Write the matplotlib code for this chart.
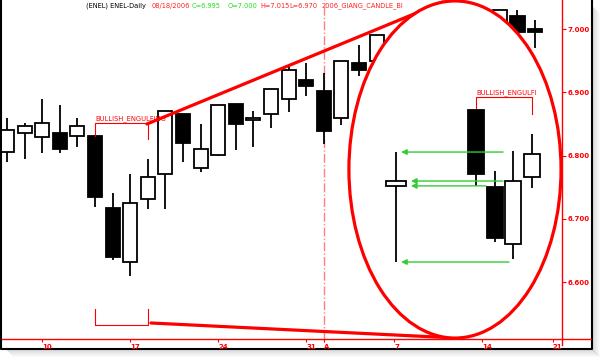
import matplotlib
matplotlib.use('Agg')
import matplotlib.pyplot as plt
from matplotlib.patches import Rectangle, Ellipse

plt.rcParams['font.family'] = ['DejaVu Sans']

# ------ data (ENEL daily, Jul 6 - Aug 18 2006) ------
# trading-day index: 0 = Jul 6 ... 21 = Aug 4, 22 = Aug 7, 27 = Aug 14, 28 = Aug 16, 30 = Aug 18
idx = [0, 1, 2, 3, 4, 5, 6, 7, 8, 9, 10, 11, 12, 13, 14, 15, 16, 17, 18, 19, 20, 21, 28, 29, 30]
opens = [6.806, 6.835, 6.830, 6.836, 6.831, 6.831, 6.7165, 6.631, 6.731, 6.770, 6.866, 6.780, 6.801,
         6.881, 6.856, 6.866, 6.890, 6.920, 6.902, 6.860, 6.946, 6.950, 6.975, 7.0205, 7.000]
highs = [6.860, 6.851, 6.890, 6.880, 6.860, 6.832, 6.740, 6.770, 6.794, 6.871, 6.866, 6.850, 6.880,
         6.881, 6.870, 6.905, 6.945, 6.946, 6.931, 6.950, 6.975, 6.9905, 7.030, 7.030, 7.015]
lows = [6.790, 6.794, 6.804, 6.804, 6.814, 6.719, 6.635, 6.609, 6.715, 6.715, 6.789, 6.774, 6.799,
        6.809, 6.814, 6.844, 6.869, 6.894, 6.819, 6.849, 6.925, 6.950, 6.960, 6.995, 6.970]
closes = [6.840, 6.846, 6.851, 6.810, 6.846, 6.735, 6.640, 6.725, 6.766, 6.871, 6.820, 6.810, 6.880,
          6.850, 6.860, 6.905, 6.935, 6.910, 6.839, 6.950, 6.935, 6.9905, 7.030, 6.996, 6.995]

tick_pos = [2, 7, 12, 17, 18, 22, 27, 31]
tick_labels = ['10', '17', '24', '31', 'A', '7', '14', '21']
price_ticks = [6.6, 6.7, 6.8, 6.9, 7.0]

# inset drawn inside the circle: the engulfing pattern and the resulting doji
inset_x = [26.65, 27.73, 28.75, 29.83]
inset_o = [6.872, 6.7507, 6.660, 6.7655]
inset_h = [6.872, 6.7755, 6.8076, 6.8335]
inset_l = [6.752, 6.6637, 6.6364, 6.748]
inset_c = [6.770, 6.669, 6.7597, 6.802]
doji_x = 22.1
doji_ohlc = [6.752, 6.8055, 6.6316, 6.7597]

# green arrows: price level, start index, tip index
arrow_lvl = [6.8055, 6.7597, 6.752, 6.6316]
arrow_from = [28.18, 28.18, 27.2, 28.52]
arrow_to = [22.39, 22.95, 22.95, 22.39]

title_parts = ['(ENEL) ENEL-Daily', '08/18/2006', 'C=6.995', 'O=7.000', 'H=7.015', 'L=6.970',
               '2006_GIANG_CANDLE_BI']
title_colors = ['black', '#ff2020', '#20e020', '#20e020', '#ff2020', '#ff2020', '#ff2020']
title_x = [86, 152, 192, 228, 260, 289, 322]

red = '#ff0000'
fs = 4.8

fig = plt.figure(figsize=(6.04, 3.59), dpi=100)

# ------ background: frame, shadow, title ------
bg = fig.add_axes([0, 0, 1, 1])
bg.set_xlim(0, 604)
bg.set_ylim(359, 0)
bg.axis('off')
for k in range(1, 9):
    a = 0.35 * (1 - k / 9)
    bg.add_patch(Rectangle((592 + k - 1, 5 + k), 1, 349 - 5, color='gray', alpha=a, lw=0))
    bg.add_patch(Rectangle((5 + k, 349 + k - 1), 592 - 5, 1, color='gray', alpha=a, lw=0))
bg.plot([1, 1, 592, 592], [0, 349, 349, 0], color='black', lw=1.5)
bg.plot([562, 591], [339, 339], color=red, lw=1)
bg.plot([562, 562], [339, 345], color=red, lw=1)
for txt, col, x in zip(title_parts, title_colors, title_x):
    bg.text(x, 6, txt, color=col, fontsize=fs, ha='left', va='center')

# ------ main price axes ------
ax = fig.add_axes([2 / 604, 20 / 359, 560 / 604, 339 / 359])
ax.set_facecolor('none')
ax.set_xlim(-0.284, 31.53)
ax.set_ylim(6.5099, 7.0459)


def candle(x, o, h, l, c, w, z):
    ax.vlines(x, l, h, color='black', lw=1.3, zorder=z)
    face = 'white' if c >= o else 'black'
    ax.add_patch(Rectangle((x - w / 2, min(o, c)), w, max(abs(c - o), 0.004),
                           facecolor=face, edgecolor='black', lw=1.3, zorder=z + 0.1))


for i in range(len(idx)):
    candle(idx[i], opens[i], highs[i], lows[i], closes[i], 0.8, 2)

# month separator
ax.axvline(18, color='#ff8080', lw=1, ls='-.', zorder=1)

# bullish engulfing bracket on the chart
ax.plot([5, 5, 8, 8], [6.831, 6.8514, 6.8514, 6.8261], color=red, lw=0.8, zorder=3)
ax.text(5, 6.853, 'BULLISH_ENGULFING', color=red, fontsize=4.9,
        ha='left', va='bottom', zorder=3)
ax.plot([5, 5, 8, 8], [6.5573, 6.532, 6.532, 6.5573], color=red, lw=0.8, zorder=3)

# thick lines leading to the circle
ax.plot([7.95, 24.77], [6.8498, 7.0427], color=red, lw=2.3, zorder=3.5, solid_capstyle='round')
ax.plot([8.18, 25.51], [6.5352, 6.5115], color=red, lw=2.3, zorder=3.5, solid_capstyle='round')

ax.add_patch(Ellipse((25.45, 6.7779), 12.05, 0.533, facecolor='white', edgecolor=red,
                     lw=2.3, zorder=4))

# inset inside the circle
for i in range(len(inset_x)):
    candle(inset_x[i], inset_o[i], inset_h[i], inset_l[i], inset_c[i], 0.9, 5)
candle(doji_x, doji_ohlc[0], doji_ohlc[1], doji_ohlc[2], doji_ohlc[3], 1.1, 5)

ax.plot([inset_x[0], inset_x[0], inset_x[3], inset_x[3]], [6.8656, 6.893, 6.893, 6.8656],
        color=red, lw=0.8, zorder=5)
ax.text(inset_x[0], 6.8945, 'BULLISH_ENGULFI', color=red, fontsize=4.9,
        ha='left', va='bottom', zorder=5)

for lvl, x0, x1 in zip(arrow_lvl, arrow_from, arrow_to):
    ax.annotate('', xy=(x1, lvl), xytext=(x0, lvl), zorder=6,
                arrowprops=dict(arrowstyle='-|>', color='#33cc33', lw=1, mutation_scale=8,
                                shrinkA=0, shrinkB=0))

# ------ axes styling ------
for s in ['top', 'left']:
    ax.spines[s].set_visible(False)
for s in ['bottom', 'right']:
    ax.spines[s].set_color(red)
    ax.spines[s].set_linewidth(1)
ax.yaxis.tick_right()
ax.set_yticks(price_ticks)
ax.set_yticklabels(['%.3f' % p for p in price_ticks])
ax.set_xticks(tick_pos)
ax.set_xticklabels(tick_labels, ha='left')
ax.tick_params(axis='y', colors=red, length=3, width=0.8, pad=1, labelsize=5)
ax.tick_params(axis='x', colors=red, length=2, width=0.8, pad=1.5, labelsize=5)
for t in ax.get_xticklabels() + ax.get_yticklabels():
    t.set_fontweight('bold')

fig.savefig('out.png', dpi=100, facecolor='white')
